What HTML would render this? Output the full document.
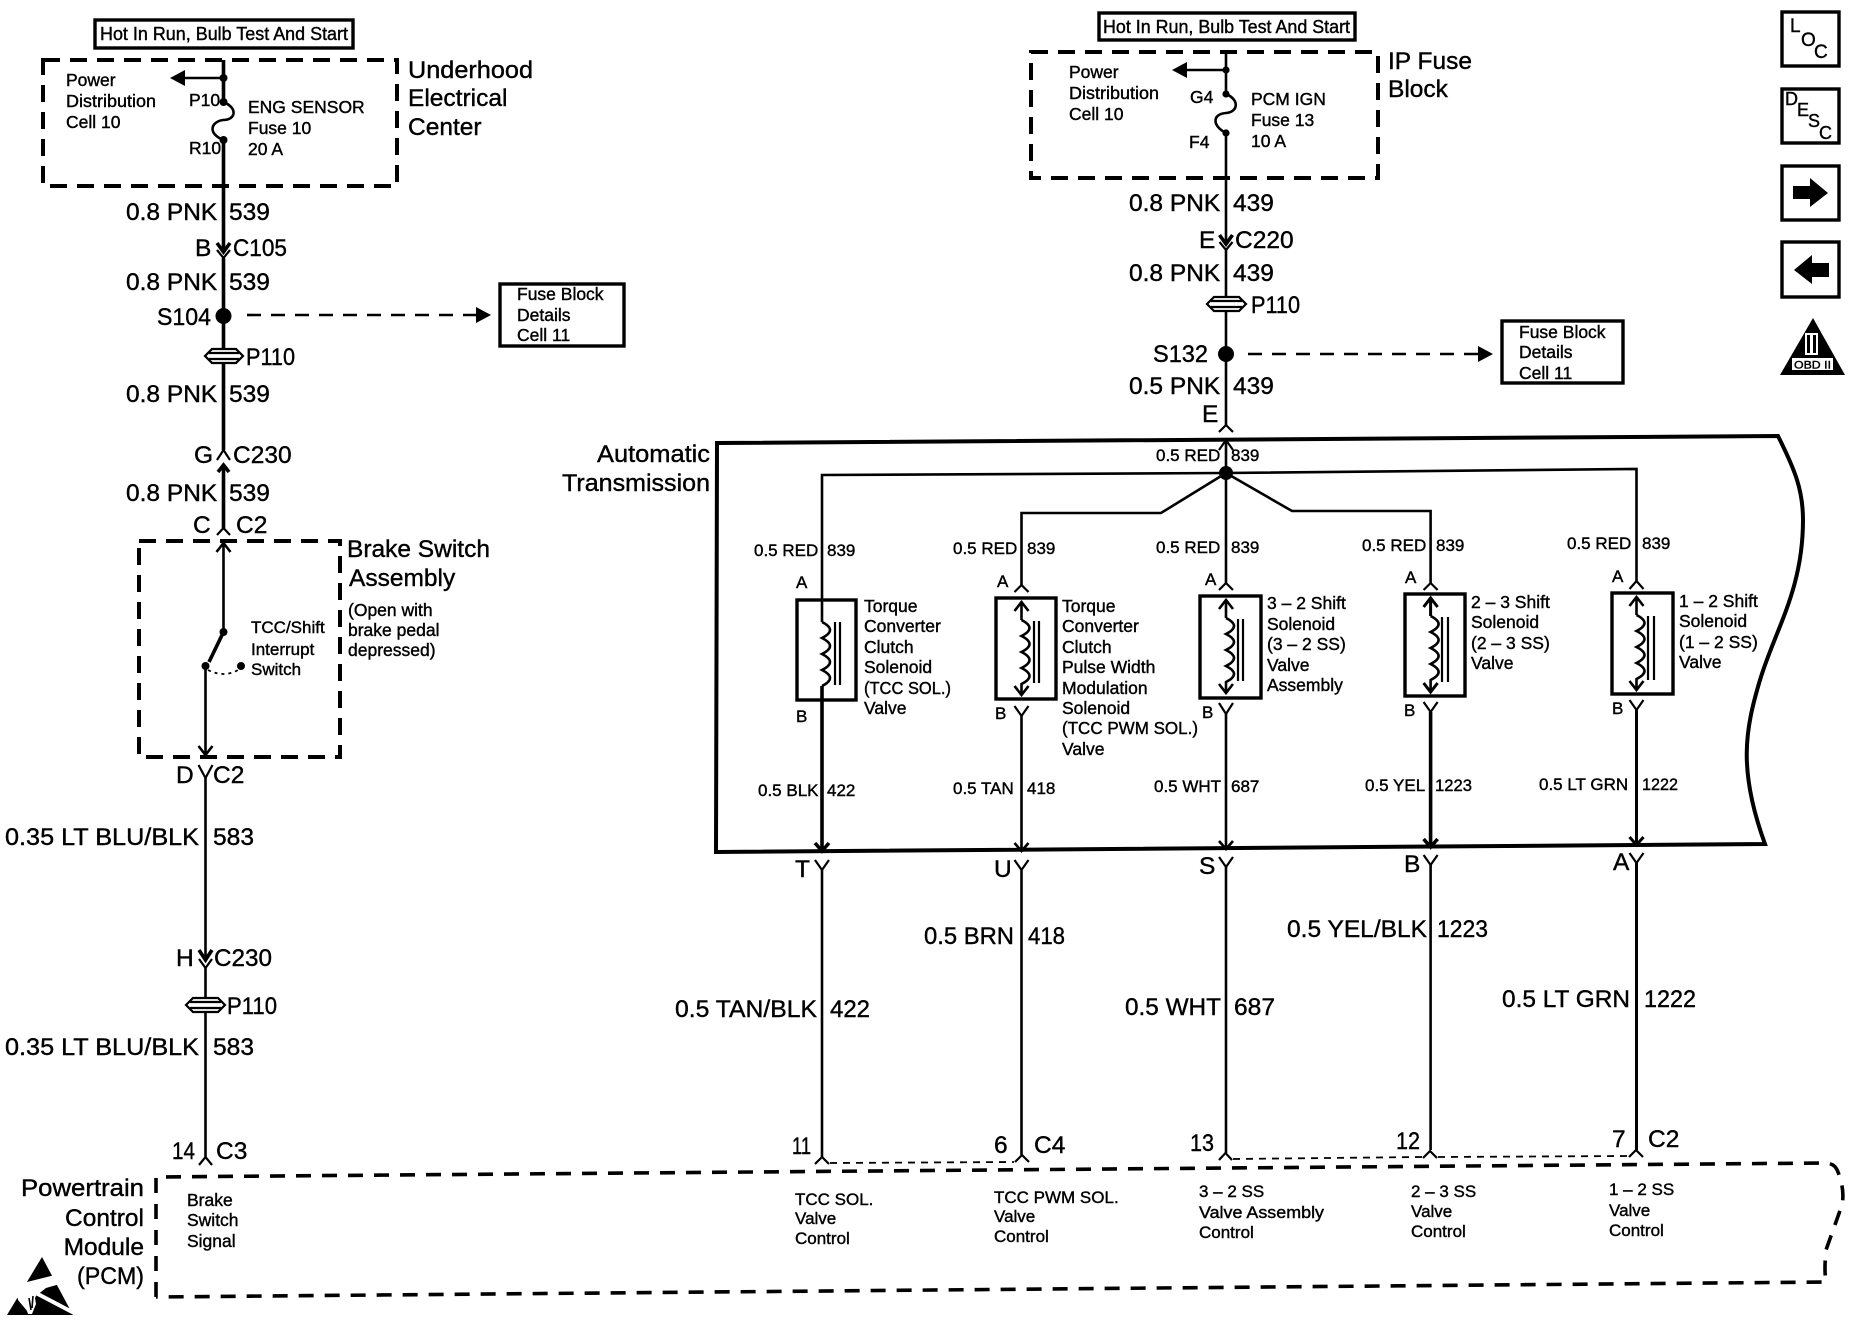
<!DOCTYPE html>
<html><head><meta charset="utf-8">
<style>
html,body{margin:0;padding:0;background:#fff}
svg{display:block}
text{font-family:"Liberation Sans",sans-serif;fill:#000;stroke:#000;stroke-width:.4}
.l{font-size:24.5px}.m{font-size:17.5px}.h{font-size:18.5px}.s{font-size:17px}
.e{text-anchor:end}
.w{fill:none;stroke:#000;stroke-width:2.6}
.t{fill:none;stroke:#000;stroke-width:3.6}
.c{fill:none;stroke:#000;stroke-width:2.2}
.d{fill:none;stroke:#000;stroke-width:4;stroke-dasharray:17 10}
.b{fill:none;stroke:#000;stroke-width:3.4}
</style></head><body>
<svg width="1850" height="1328" viewBox="0 0 1850 1328" xmlns="http://www.w3.org/2000/svg">
<rect width="1850" height="1328" fill="#fff"/>

<!-- LEFT COLUMN -->
<rect x="95" y="20" width="258" height="28" class="b"/>
<text class="h" x="100" y="40" textLength="248" lengthAdjust="spacingAndGlyphs">Hot In Run, Bulb Test And Start</text>
<rect x="43" y="60" width="354" height="126" class="d"/>
<path class="t" d="M223.5 60V102M223.5 140V252M223.5 258V348M223.5 364V450M223.5 465V528"/>
<path class="w" d="M223.5 78H184"/><path d="M170 78L185 70V86Z"/>
<circle cx="223.5" cy="78" r="4"/><circle cx="223.5" cy="102" r="4"/><circle cx="223.5" cy="140" r="4"/>
<path class="w" d="M223.5 102C238 108 236 120 223 120C210 122 208 134 223.5 140"/>
<text class="m" x="66" y="86">Power</text><text class="m" x="66" y="107" textLength="90" lengthAdjust="spacingAndGlyphs">Distribution</text><text class="m" x="66" y="128">Cell 10</text>
<text class="m" x="189" y="106">P10</text><text class="m" x="189" y="154">R10</text>
<text class="m" x="248" y="113">ENG SENSOR</text><text class="m" x="248" y="134">Fuse 10</text><text class="m" x="248" y="155">20 A</text>
<text class="l" x="408" y="78" textLength="125" lengthAdjust="spacingAndGlyphs">Underhood</text><text class="l" x="408" y="106">Electrical</text><text class="l" x="408" y="135">Center</text>
<text class="l" x="126" y="220">0.8 PNK</text><text class="l" x="229" y="220">539</text>
<text class="l" x="195" y="256">B</text><text class="l" x="233" y="256" textLength="54" lengthAdjust="spacingAndGlyphs">C105</text>
<path class="t" d="M217 243L223.5 252L230 243"/><path class="c" d="M217 250L223.5 258L230 250"/>
<text class="l" x="126" y="290">0.8 PNK</text><text class="l" x="229" y="290">539</text>
<text class="l" x="157" y="325" textLength="54" lengthAdjust="spacingAndGlyphs">S104</text><circle cx="223.5" cy="316" r="8"/>
<path class="w" style="stroke-dasharray:14 10" d="M247 315H478"/><path d="M491 315L476 307V323Z"/>
<rect x="500" y="284" width="124" height="62" class="b"/>
<text class="m" x="517" y="300">Fuse Block</text><text class="m" x="517" y="321">Details</text><text class="m" x="517" y="341">Cell 11</text>
<path class="c" fill="#fff" d="M205 356L212 349H236L243 356L236 363H212Z"/><path class="c" d="M209 353H239M209 359H239"/>
<text class="l" x="246" y="365" textLength="49" lengthAdjust="spacingAndGlyphs">P110</text>
<text class="l" x="126" y="402">0.8 PNK</text><text class="l" x="229" y="402">539</text>
<text class="l" x="194" y="463">G</text><text class="l" x="233" y="463">C230</text>
<path class="c" d="M217 460L223.5 450L230 460"/><path class="t" d="M218 472L223.5 465L229 472"/>
<text class="l" x="126" y="501">0.8 PNK</text><text class="l" x="229" y="501">539</text>
<text class="l" x="193" y="533">C</text><text class="l" x="236" y="533">C2</text>
<path class="c" d="M217 535L223.5 528L230 535"/>
<rect x="139" y="541" width="201" height="216" class="d"/>
<text class="l" x="347" y="557">Brake Switch</text><text class="l" x="349" y="586">Assembly</text>
<text class="m" x="348" y="616">(Open with</text><text class="m" x="348" y="636">brake pedal</text><text class="m" x="348" y="656">depressed)</text>
<text class="s" x="251" y="633">TCC/Shift</text><text class="s" x="251" y="655">Interrupt</text><text class="s" x="251" y="675">Switch</text>
<path class="w" d="M216.5 552L223.5 543L230.5 552M223.5 543V632"/>
<circle cx="223.5" cy="632" r="4"/><path class="t" d="M223.5 632L209 662"/>
<circle cx="205.5" cy="666" r="4"/><circle cx="241" cy="666" r="4"/>
<path fill="none" stroke="#000" stroke-width="1.8" stroke-dasharray="3 4" d="M208 670Q224 678 238 670"/>
<path class="w" d="M205.5 666V755M198.5 746L205.5 755L212.5 746"/>
<text class="l" x="176" y="783">D</text><text class="l" x="213" y="783">C2</text>
<path class="c" d="M198.5 765L205.5 778L212.5 765"/>
<path class="w" d="M205.5 778V960M205.5 967V998M205.5 1012V1158"/>
<text class="l" x="5" y="845" textLength="194" lengthAdjust="spacingAndGlyphs">0.35 LT BLU/BLK</text><text class="l" x="213" y="845" textLength="41" lengthAdjust="spacingAndGlyphs">583</text>
<text class="l" x="176" y="966">H</text><text class="l" x="214" y="966" textLength="58" lengthAdjust="spacingAndGlyphs">C230</text>
<path class="t" d="M199 950L205.5 960L212 950"/><path class="c" d="M199 959L205.5 968L212 959"/>
<path class="c" fill="#fff" d="M186 1005L193 998H218L225 1005L218 1012H193Z"/><path class="c" d="M190 1002H221M190 1008H221"/>
<text class="l" x="227" y="1014" textLength="50" lengthAdjust="spacingAndGlyphs">P110</text>
<text class="l" x="5" y="1055" textLength="194" lengthAdjust="spacingAndGlyphs">0.35 LT BLU/BLK</text><text class="l" x="213" y="1055" textLength="41" lengthAdjust="spacingAndGlyphs">583</text>
<text class="l" x="172" y="1159" textLength="23" lengthAdjust="spacingAndGlyphs">14</text><text class="l" x="216" y="1159">C3</text>
<path class="c" d="M199 1165L205.5 1157L212 1165"/>

<!-- RIGHT TOP COLUMN -->
<rect x="1099" y="13" width="256" height="27" class="b"/>
<text class="h" x="1103" y="33" textLength="247" lengthAdjust="spacingAndGlyphs">Hot In Run, Bulb Test And Start</text>
<rect x="1031" y="52" width="347" height="126" class="d"/>
<path class="w" d="M1226 52V94M1226 133V244M1226 250V297M1226 311V425"/>
<path class="w" d="M1226 70H1186"/><path d="M1172 70L1187 62V78Z"/>
<circle cx="1226" cy="70" r="3.6"/><circle cx="1226" cy="94" r="3.6"/><circle cx="1226" cy="133" r="3.6"/>
<path class="w" d="M1226 94C1240 100 1238 112 1226 113C1212 114 1212 126 1226 133"/>
<text class="m" x="1069" y="78">Power</text><text class="m" x="1069" y="99" textLength="90" lengthAdjust="spacingAndGlyphs">Distribution</text><text class="m" x="1069" y="120">Cell 10</text>
<text class="m" x="1190" y="103">G4</text><text class="m" x="1189" y="148">F4</text>
<text class="m" x="1251" y="105">PCM IGN</text><text class="m" x="1251" y="126">Fuse 13</text><text class="m" x="1251" y="147">10 A</text>
<text class="l" x="1388" y="69">IP Fuse</text><text class="l" x="1388" y="97">Block</text>
<text class="l" x="1129" y="211">0.8 PNK</text><text class="l" x="1233" y="211">439</text>
<text class="l" x="1199" y="248">E</text><text class="l" x="1235" y="248">C220</text>
<path class="t" d="M1219.5 235L1226 244L1232.5 235"/><path class="c" d="M1219.5 242L1226 250L1232.5 242"/>
<text class="l" x="1129" y="281">0.8 PNK</text><text class="l" x="1233" y="281">439</text>
<path class="c" fill="#fff" d="M1207 304L1214 297H1239L1246 304L1239 311H1214Z"/><path class="c" d="M1211 301H1242M1211 307H1242"/>
<text class="l" x="1251" y="313" textLength="49" lengthAdjust="spacingAndGlyphs">P110</text>
<text class="l" x="1153" y="362" textLength="55" lengthAdjust="spacingAndGlyphs">S132</text><circle cx="1226" cy="354" r="8"/>
<path class="w" style="stroke-dasharray:14 10" d="M1248 354H1478"/><path d="M1493 354L1478 346V362Z"/>
<rect x="1502" y="321" width="121" height="62" class="b"/>
<text class="m" x="1519" y="338">Fuse Block</text><text class="m" x="1519" y="358">Details</text><text class="m" x="1519" y="379">Cell 11</text>
<text class="l" x="1129" y="394">0.5 PNK</text><text class="l" x="1233" y="394">439</text>
<text class="l" x="1202" y="422">E</text>
<path class="c" d="M1219 432L1226 425L1233 432"/>

<!-- SIDE ICONS -->
<rect x="1782" y="12" width="57" height="54" class="b"/>
<text style="font-size:19px" x="1790" y="32">L</text><text style="font-size:19px" x="1801" y="46">O</text><text style="font-size:19px" x="1814" y="58">C</text>
<rect x="1782" y="89" width="57" height="54" class="b"/>
<text style="font-size:18px" x="1785" y="105">D</text><text style="font-size:18px" x="1797" y="116">E</text><text style="font-size:18px" x="1808" y="127">S</text><text style="font-size:18px" x="1819" y="139">C</text>
<rect x="1782" y="166" width="57" height="54" class="b"/>
<path d="M1793 186H1810V178L1828 193L1810 207V199H1793Z"/>
<rect x="1782" y="242" width="57" height="55" class="b"/>
<path d="M1829 263H1812V255L1794 270L1812 284V277H1829Z"/>
<path d="M1813 318L1845 375H1780Z"/>
<rect x="1792" y="358" width="41" height="12" fill="#fff"/>
<rect x="1805" y="333" width="13" height="22" fill="#fff"/>
<rect x="1807" y="335" width="3" height="18"/><rect x="1813" y="335" width="3" height="18"/>
<text style="font-size:11px;stroke-width:.4" x="1794" y="368.500" textLength="37" lengthAdjust="spacingAndGlyphs">OBD II</text>

<!-- AUTOMATIC TRANSMISSION -->
<path fill="none" stroke="#000" stroke-width="4" d="M717 443L1778 436C1795 470 1803 490 1803 520C1803 590 1775 630 1760 680C1745 730 1738 770 1765 844L716 852Z"/>
<text class="l" x="597" y="462" textLength="113" lengthAdjust="spacingAndGlyphs">Automatic</text><text class="l" x="562" y="491" textLength="148" lengthAdjust="spacingAndGlyphs">Transmission</text>
<path class="c" d="M1219 450L1226 440L1233 450"/>
<path class="w" d="M1226 440V473"/>
<circle cx="1226" cy="473" r="7"/>
<path class="w" d="M822 622V475L1226 473L1636.5 469V581"/>
<path class="w" d="M1226 473L1161 513H1021.5V585"/>
<path class="w" d="M1226 473L1292 511H1430.6V583"/>
<path class="w" d="M1226 473V583"/>
<text class="s" x="1156" y="461">0.5 RED</text><text class="s" x="1231" y="461">839</text>
<text class="s" x="754" y="556">0.5 RED</text><text class="s" x="827" y="556">839</text>
<text class="s" x="953" y="554">0.5 RED</text><text class="s" x="1027" y="554">839</text>
<text class="s" x="1156" y="553">0.5 RED</text><text class="s" x="1231" y="553">839</text>
<text class="s" x="1362" y="551">0.5 RED</text><text class="s" x="1436" y="551">839</text>
<text class="s" x="1567" y="549">0.5 RED</text><text class="s" x="1642" y="549">839</text>

<!-- Solenoid 1 -->
<rect x="797" y="600" width="59" height="100" class="b"/>
<path class="w" d="M822 622q16 8 0 16q16 8 0 16q16 8 0 16q16 8 0 16"/>
<path class="c" d="M835 622V685M840 622V685"/>
<path class="t" d="M822 686V851M815 843L822 851L829 843"/>
<text class="s" x="796" y="588">A</text><text class="s" x="796" y="722">B</text>
<text class="m" x="864" y="612">Torque</text><text class="m" x="864" y="632">Converter</text><text class="m" x="864" y="653">Clutch</text><text class="m" x="864" y="673">Solenoid</text><text class="m" x="864" y="694" textLength="87" lengthAdjust="spacingAndGlyphs">(TCC SOL.)</text><text class="m" x="864" y="714">Valve</text>
<text class="s" x="758" y="796">0.5 BLK</text><text class="s" x="827" y="796">422</text>
<text class="l" x="795" y="877">T</text>
<path class="c" d="M815 860L822 870L829 860"/>
<path class="w" d="M822 870V1157"/>

<!-- Solenoid 2 -->
<rect x="996" y="598" width="60" height="101" class="b"/>
<path class="c" d="M1014.5 592L1021.5 585L1028.5 592"/>
<path class="w" d="M1014.5 611L1021.5 602L1028.5 611M1021.5 602V620"/>
<path class="w" d="M1021.5 620q16 8 0 16q16 8 0 16q16 8 0 16q16 8 0 16V695M1014.5 686L1021.5 695L1028.5 686"/>
<path class="c" d="M1034 621V683M1039 621V683"/>
<path class="c" d="M1014.5 706L1021.5 716L1028.5 706"/>
<path class="w" d="M1021.5 716V851M1014.5 843L1021.5 851L1028.5 843"/>
<text class="s" x="997" y="587">A</text><text class="s" x="995" y="719">B</text>
<text class="m" x="1062" y="612">Torque</text><text class="m" x="1062" y="632">Converter</text><text class="m" x="1062" y="653">Clutch</text><text class="m" x="1062" y="673">Pulse Width</text><text class="m" x="1062" y="694">Modulation</text><text class="m" x="1062" y="714">Solenoid</text><text class="m" x="1062" y="734" textLength="136" lengthAdjust="spacingAndGlyphs">(TCC PWM SOL.)</text><text class="m" x="1062" y="755">Valve</text>
<text class="s" x="953" y="794">0.5 TAN</text><text class="s" x="1027" y="794">418</text>
<text class="l" x="994" y="877">U</text>
<path class="c" d="M1014.5 860L1021.5 870L1028.5 860"/>
<path class="w" d="M1021.5 870V1155"/>

<!-- Solenoid 3 -->
<rect x="1200" y="596" width="61" height="102" class="b"/>
<path class="c" d="M1219 590L1226 583L1233 590"/>
<path class="w" d="M1219 609L1226 600L1233 609M1226 600V618"/>
<path class="w" d="M1226 618q16 8 0 16q16 8 0 16q16 8 0 16q16 8 0 16V693M1219 684L1226 693L1233 684"/>
<path class="c" d="M1238 619V681M1243 619V681"/>
<path class="c" d="M1219 703L1226 714L1233 703"/>
<path class="w" d="M1226 714V849M1219 841L1226 849L1233 841"/>
<text class="s" x="1205" y="585">A</text><text class="s" x="1202" y="718">B</text>
<text class="m" x="1267" y="609">3 – 2 Shift</text><text class="m" x="1267" y="630">Solenoid</text><text class="m" x="1267" y="650">(3 – 2 SS)</text><text class="m" x="1267" y="671">Valve</text><text class="m" x="1267" y="691">Assembly</text>
<text class="s" x="1154" y="792">0.5 WHT</text><text class="s" x="1231" y="792">687</text>
<text class="l" x="1199" y="874">S</text>
<path class="c" d="M1219 857L1226 867L1233 857"/>
<path class="w" d="M1226 867V1153"/>

<!-- Solenoid 4 -->
<rect x="1405" y="594" width="60" height="102" class="b"/>
<path class="c" d="M1423.6 590L1430.6 583L1437.6 590"/>
<path class="t" style="stroke-width:3" d="M1423.6 607L1430.6 598L1437.6 607M1430.6 598V616"/>
<path class="w" d="M1430.6 616q16 8 0 16q16 8 0 16q16 8 0 16q16 8 0 16V691"/>
<path class="t" style="stroke-width:3" d="M1423.6 683L1430.6 692L1437.6 683"/>
<path class="c" d="M1442 617V682M1448 617V682"/>
<path class="c" d="M1423.6 702L1430.6 712L1437.6 702"/>
<path class="t" d="M1430.6 712V847M1423.6 839L1430.6 847L1437.6 839"/>
<text class="s" x="1405" y="583">A</text><text class="s" x="1404" y="716">B</text>
<text class="m" x="1471" y="608">2 – 3 Shift</text><text class="m" x="1471" y="628">Solenoid</text><text class="m" x="1471" y="649">(2 – 3 SS)</text><text class="m" x="1471" y="669">Valve</text>
<text class="s" x="1365" y="791">0.5 YEL</text><text class="s" x="1435" y="791" textLength="37" lengthAdjust="spacingAndGlyphs">1223</text>
<text class="l" x="1404" y="872">B</text>
<path class="c" d="M1423.6 855L1430.6 865L1437.6 855"/>
<path class="w" d="M1430.6 865V1150"/>

<!-- Solenoid 5 -->
<rect x="1612" y="593" width="61" height="101" class="b"/>
<path class="c" d="M1629.5 589L1636.5 581L1643.5 589"/>
<path class="w" d="M1629.5 606L1636.5 597L1643.5 606M1636.5 597V615"/>
<path class="w" d="M1636.5 615q16 8 0 16q16 8 0 16q16 8 0 16q16 8 0 16V690M1629.5 681L1636.5 690L1643.5 681"/>
<path class="c" d="M1648 616V680M1654 616V680"/>
<path class="c" d="M1629.5 700L1636.5 710L1643.5 700"/>
<path class="w" style="stroke-width:3" d="M1636.5 710V845M1629.5 837L1636.5 845L1643.5 837"/>
<text class="s" x="1612" y="582">A</text><text class="s" x="1612" y="714">B</text>
<text class="m" x="1679" y="607">1 – 2 Shift</text><text class="m" x="1679" y="627">Solenoid</text><text class="m" x="1679" y="648">(1 – 2 SS)</text><text class="m" x="1679" y="668">Valve</text>
<text class="s" x="1539" y="790">0.5 LT GRN</text><text class="s" x="1642" y="790" textLength="36" lengthAdjust="spacingAndGlyphs">1222</text>
<text class="l" x="1613" y="870">A</text>
<path class="c" d="M1629.5 853L1636.5 863L1643.5 853"/>
<path class="w" style="stroke-width:3" d="M1636.5 863V1150"/>

<!-- Lower wire labels -->
<text class="l" x="675" y="1017" textLength="142" lengthAdjust="spacingAndGlyphs">0.5 TAN/BLK</text><text class="l" x="830" y="1017" textLength="40" lengthAdjust="spacingAndGlyphs">422</text>
<text class="l" x="924" y="944" textLength="90" lengthAdjust="spacingAndGlyphs">0.5 BRN</text><text class="l" x="1028" y="944" textLength="37" lengthAdjust="spacingAndGlyphs">418</text>
<text class="l" x="1125" y="1015" textLength="96" lengthAdjust="spacingAndGlyphs">0.5 WHT</text><text class="l" x="1234" y="1015" textLength="41" lengthAdjust="spacingAndGlyphs">687</text>
<text class="l" x="1287" y="937" textLength="140" lengthAdjust="spacingAndGlyphs">0.5 YEL/BLK</text><text class="l" x="1437" y="937" textLength="51" lengthAdjust="spacingAndGlyphs">1223</text>
<text class="l" x="1502" y="1007" textLength="128" lengthAdjust="spacingAndGlyphs">0.5 LT GRN</text><text class="l" x="1644" y="1007" textLength="52" lengthAdjust="spacingAndGlyphs">1222</text>

<!-- Pins -->
<text class="l" x="792" y="1154" textLength="19" lengthAdjust="spacingAndGlyphs">11</text>
<text class="l" x="994" y="1153">6</text><text class="l" x="1034" y="1153">C4</text>
<text class="l" x="1190" y="1151" textLength="24" lengthAdjust="spacingAndGlyphs">13</text>
<text class="l" x="1396" y="1149" textLength="24" lengthAdjust="spacingAndGlyphs">12</text>
<text class="l" x="1612" y="1147">7</text><text class="l" x="1648" y="1147">C2</text>
<path class="c" d="M815 1164L822 1157L829 1164"/>
<path class="c" d="M1015 1162L1022 1155L1029 1162"/>
<path class="c" d="M1219 1160L1225.5 1153L1232 1160"/>
<path class="c" d="M1423 1158L1430 1151L1437 1158"/>
<path class="c" d="M1629 1157L1636 1150L1643 1157"/>
<path fill="none" stroke="#000" stroke-width="1.8" stroke-dasharray="7 6" d="M830 1163L1014 1162M1233 1159L1422 1157M1438 1157L1628 1156"/>

<!-- PCM -->
<path fill="none" stroke="#000" stroke-width="3.6" style="stroke-dasharray:15 11" d="M156 1297V1177L1825 1163Q1835 1163 1838 1172Q1845 1190 1842 1205L1826 1250Q1824 1270 1826 1282L156 1297"/>
<text class="l" x="21" y="1196" textLength="123" lengthAdjust="spacingAndGlyphs">Powertrain</text><text class="l e" x="144" y="1226">Control</text><text class="l e" x="144" y="1255">Module</text><text class="l e" x="144" y="1284" textLength="67" lengthAdjust="spacingAndGlyphs">(PCM)</text>
<text class="m" x="187" y="1206">Brake</text><text class="m" x="187" y="1226">Switch</text><text class="m" x="187" y="1247">Signal</text>
<text class="s" x="795" y="1205">TCC SOL.</text><text class="s" x="795" y="1224">Valve</text><text class="s" x="795" y="1244">Control</text>
<text class="s" x="994" y="1203">TCC PWM SOL.</text><text class="s" x="994" y="1222">Valve</text><text class="s" x="994" y="1242">Control</text>
<text class="s" x="1199" y="1197">3 – 2 SS</text><text class="s" x="1199" y="1218" textLength="125" lengthAdjust="spacingAndGlyphs">Valve Assembly</text><text class="s" x="1199" y="1238">Control</text>
<text class="s" x="1411" y="1197">2 – 3 SS</text><text class="s" x="1411" y="1217">Valve</text><text class="s" x="1411" y="1237">Control</text>
<text class="s" x="1609" y="1195">1 – 2 SS</text><text class="s" x="1609" y="1216">Valve</text><text class="s" x="1609" y="1236">Control</text>

<!-- ESD icon -->
<path d="M42 1257L73 1315H7Z"/>
<path fill="#fff" d="M17 1294L23 1283L55 1275L60 1284L46 1288L36 1296L28 1312L18 1300Z"/>
<path fill="#fff" d="M22 1290L34 1292L36 1304L32 1314H28L24 1302Z"/>
<path fill="none" stroke="#000" stroke-width="1.6" d="M29 1298L31 1310M33 1296L32 1308"/>
<path fill="none" stroke="#fff" stroke-width="4" d="M34 1292L76 1314"/>
</svg>
</body></html>
